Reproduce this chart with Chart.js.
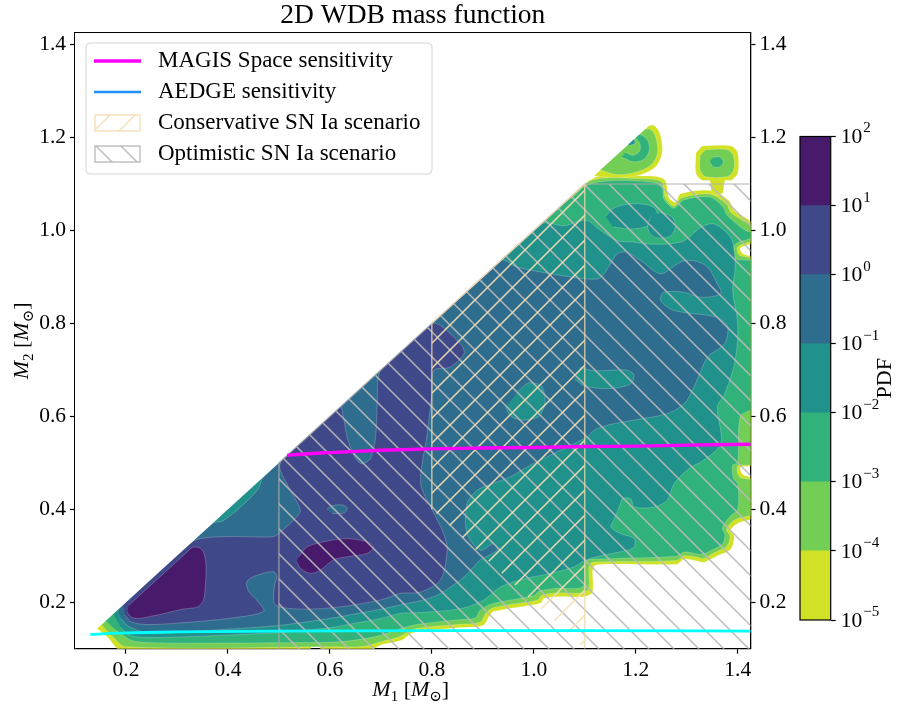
<!DOCTYPE html>
<html>
<head>
<meta charset="utf-8">
<script src="https://cdn.jsdelivr.net/npm/chart.js@4.4.1/dist/chart.umd.min.js"></script>
<style>
  html, body { margin: 0; padding: 0; background: #fff; }
  #wrap { position: relative; width: 904px; height: 707px; }
  #main { position: absolute; left: 0; top: 0; }
  #cbar { position: absolute; left: 760px; top: 0; }
</style>
</head>
<body>
<div id="wrap">
  <canvas id="main" width="904" height="707"></canvas>
  <canvas id="cbar" width="144" height="707"></canvas>
</div>
<script>
/************************ DATA ************************** */
const xRange = [0.1, 1.425];
const yRange = [0.1, 1.425];
const xTicks = [0.2, 0.4, 0.6, 0.8, 1.0, 1.2, 1.4];
const yTicks = [0.2, 0.4, 0.6, 0.8, 1.0, 1.2, 1.4];

// PDF contour levels and their viridis colours (low -> high)
const pdfLevels = [1e-5, 1e-4, 1e-3, 1e-2, 1e-1, 1, 10, 100];
const levelColors = ["#d0e126", "#72ce55", "#31b27b", "#21918c", "#2f6d8e", "#3f4888", "#471a6b"];

// contour outlines [M1, M2]
const lvl1Main = [[0.143,0.144],[1.100,1.100],[1.131,1.118],[1.196,1.118],[1.255,1.111],[1.265,1.071],[1.278,1.061],[1.288,1.079],[1.347,1.086],[1.383,1.064],[1.393,1.043],[1.430,1.014],[1.430,0.975],[1.405,0.962],[1.410,0.950],[1.430,0.940],[1.430,0.497],[1.405,0.490],[1.410,0.475],[1.430,0.465],[1.430,0.384],[1.400,0.370],[1.386,0.355],[1.393,0.342],[1.386,0.314],[1.360,0.300],[1.334,0.286],[1.320,0.289],[1.295,0.293],[1.281,0.282],[1.137,0.282],[1.117,0.276],[1.115,0.222],[1.098,0.212],[1.046,0.212],[1.020,0.208],[1.013,0.198],[0.921,0.180],[0.912,0.169],[0.900,0.150],[0.850,0.145],[0.764,0.135],[0.740,0.118],[0.700,0.108],[0.675,0.095],[0.585,0.095],[0.578,0.104],[0.565,0.104],[0.558,0.095],[0.192,0.095],[0.163,0.126]];
const lvl1Blob1 = [[1.118,1.118],[1.160,1.113],[1.210,1.120],[1.240,1.138],[1.252,1.170],[1.247,1.210],[1.236,1.226],[1.226,1.226]];
const lvl1Blob2 = [[1.330,1.182],[1.387,1.182],[1.400,1.167],[1.400,1.123],[1.387,1.108],[1.375,1.107],[1.370,1.080],[1.350,1.080],[1.345,1.107],[1.330,1.108],[1.318,1.123],[1.318,1.167]];

const lvl2Main = [[0.152,0.152],[1.100,1.100],[1.130,1.112],[1.196,1.112],[1.250,1.105],[1.258,1.070],[1.275,1.052],[1.290,1.070],[1.345,1.078],[1.378,1.057],[1.387,1.038],[1.430,1.005],[1.430,0.980],[1.400,0.965],[1.403,0.947],[1.430,0.935],[1.430,0.500],[1.400,0.493],[1.403,0.470],[1.430,0.460],[1.430,0.392],[1.395,0.378],[1.378,0.357],[1.385,0.342],[1.378,0.320],[1.355,0.307],[1.333,0.294],[1.320,0.297],[1.295,0.300],[1.280,0.290],[1.137,0.287],[1.110,0.282],[1.108,0.230],[1.095,0.220],[1.046,0.220],[1.015,0.215],[1.008,0.205],[0.920,0.188],[0.905,0.175],[0.895,0.157],[0.850,0.152],[0.764,0.142],[0.735,0.125],[0.700,0.115],[0.665,0.105],[0.600,0.104],[0.200,0.104],[0.172,0.128]];
const lvl2Blob1 = [[1.130,1.130],[1.165,1.120],[1.205,1.127],[1.232,1.143],[1.243,1.170],[1.238,1.205],[1.228,1.218],[1.218,1.218]];
const lvl2Blob2 = [[1.337,1.174],[1.380,1.174],[1.392,1.160],[1.392,1.130],[1.380,1.116],[1.337,1.116],[1.326,1.130],[1.326,1.160]];

const lvl3Main = [[0.160,0.160],[1.060,1.060],[1.080,1.075],[1.100,1.095],[1.130,1.105],[1.190,1.107],[1.250,1.098],[1.255,1.068],[1.275,1.048],[1.295,1.066],[1.345,1.072],[1.370,1.052],[1.380,1.032],[1.415,1.000],[1.430,0.995],[1.430,0.985],[1.395,0.970],[1.395,0.940],[1.430,0.930],[1.430,0.620],[1.405,0.600],[1.400,0.500],[1.390,0.495],[1.392,0.465],[1.400,0.455],[1.400,0.400],[1.385,0.385],[1.370,0.360],[1.375,0.345],[1.370,0.325],[1.350,0.313],[1.330,0.303],[1.295,0.308],[1.280,0.299],[1.137,0.293],[1.102,0.288],[1.100,0.240],[1.090,0.230],[1.046,0.230],[1.010,0.223],[1.000,0.214],[0.920,0.197],[0.895,0.183],[0.885,0.166],[0.850,0.162],[0.770,0.152],[0.730,0.140],[0.690,0.126],[0.620,0.115],[0.500,0.113],[0.350,0.112],[0.250,0.113],[0.210,0.118],[0.180,0.140]];
const lvl3Blob1 = [[1.172,1.158],[1.195,1.148],[1.215,1.152],[1.226,1.170],[1.224,1.193],[1.210,1.206],[1.196,1.204],[1.207,1.190],[1.208,1.172],[1.195,1.162],[1.180,1.168]];
const lvl3Blob2 = [[1.352,1.158],[1.365,1.158],[1.372,1.148],[1.365,1.137],[1.352,1.137],[1.345,1.148]];

const lvl4Main = [[0.175,0.175],[1.013,1.013],[1.060,1.010],[1.102,1.022],[1.131,1.000],[1.164,0.978],[1.196,0.975],[1.223,0.971],[1.262,0.971],[1.295,0.978],[1.328,1.007],[1.354,1.014],[1.386,0.985],[1.393,0.957],[1.395,0.920],[1.390,0.870],[1.400,0.800],[1.395,0.720],[1.375,0.650],[1.360,0.620],[1.367,0.541],[1.328,0.502],[1.308,0.491],[1.275,0.455],[1.262,0.420],[1.236,0.405],[1.197,0.405],[1.190,0.423],[1.174,0.423],[1.170,0.412],[1.157,0.377],[1.151,0.362],[1.170,0.348],[1.197,0.337],[1.197,0.319],[1.184,0.312],[1.131,0.300],[1.100,0.290],[1.079,0.276],[1.033,0.262],[0.980,0.250],[0.935,0.233],[0.902,0.205],[0.870,0.190],[0.837,0.183],[0.780,0.178],[0.738,0.176],[0.700,0.165],[0.650,0.155],[0.600,0.145],[0.500,0.135],[0.350,0.127],[0.250,0.124],[0.210,0.128],[0.190,0.145]];
const lvl4Ellipse = [[1.140,1.030],[1.160,1.050],[1.200,1.058],[1.235,1.050],[1.243,1.030],[1.225,1.010],[1.190,1.003],[1.155,1.008]];
const lvl4Circle = [[1.250,1.038],[1.270,1.030],[1.278,1.010],[1.270,0.990],[1.250,0.983],[1.230,0.990],[1.223,1.010],[1.230,1.030]];
const lvl4Dot = [[1.180,1.190],[1.188,1.200],[1.196,1.198],[1.198,1.188],[1.188,1.183]];

const lvl5Main = [[0.185,0.185],[0.370,0.370],[0.390,0.375],[0.430,0.410],[0.460,0.445],[0.470,0.470],[0.935,0.935],[0.967,0.921],[1.033,0.907],[1.102,0.896],[1.131,0.899],[1.164,0.950],[1.183,0.953],[1.210,0.935],[1.249,0.907],[1.288,0.932],[1.314,0.935],[1.341,0.921],[1.360,0.885],[1.367,0.864],[1.328,0.856],[1.295,0.867],[1.255,0.867],[1.249,0.849],[1.275,0.828],[1.360,0.813],[1.380,0.792],[1.374,0.756],[1.341,0.728],[1.328,0.699],[1.314,0.663],[1.295,0.627],[1.262,0.606],[1.197,0.592],[1.144,0.581],[1.118,0.570],[1.105,0.556],[1.013,0.506],[0.987,0.491],[0.954,0.470],[0.921,0.456],[0.889,0.441],[0.869,0.412],[0.869,0.348],[0.895,0.312],[0.921,0.326],[0.928,0.312],[0.895,0.291],[0.882,0.276],[0.856,0.248],[0.804,0.212],[0.738,0.194],[0.700,0.185],[0.650,0.175],[0.600,0.165],[0.500,0.150],[0.400,0.142],[0.300,0.136],[0.240,0.135],[0.205,0.148],[0.190,0.165]];
const lvl4InL5a = [[0.945,0.620],[0.955,0.600],[0.980,0.592],[1.010,0.600],[1.022,0.630],[1.015,0.665],[0.990,0.672],[0.970,0.655]];
const lvl4InL5b = [[1.080,0.680],[1.100,0.665],[1.150,0.660],[1.190,0.670],[1.196,0.690],[1.180,0.700],[1.120,0.698],[1.090,0.705]];

const lvl6Main = [[0.195,0.195],[0.330,0.330],[0.391,0.341],[0.489,0.341],[0.503,0.351],[0.529,0.377],[0.542,0.398],[0.519,0.448],[0.503,0.500],[0.620,0.620],[0.626,0.600],[0.635,0.550],[0.650,0.510],[0.663,0.498],[0.680,0.510],[0.690,0.560],[0.693,0.634],[0.700,0.700],[0.800,0.800],[0.856,0.756],[0.863,0.735],[0.836,0.706],[0.804,0.699],[0.800,0.650],[0.791,0.563],[0.778,0.456],[0.800,0.400],[0.823,0.348],[0.830,0.312],[0.817,0.248],[0.778,0.222],[0.738,0.219],[0.700,0.205],[0.620,0.190],[0.550,0.185],[0.500,0.190],[0.490,0.200],[0.492,0.240],[0.496,0.255],[0.489,0.266],[0.450,0.255],[0.437,0.244],[0.440,0.225],[0.460,0.200],[0.470,0.180],[0.400,0.165],[0.300,0.155],[0.240,0.152],[0.210,0.158],[0.198,0.172]];
const lvl5InL6 = [[0.594,0.400],[0.605,0.408],[0.625,0.409],[0.634,0.402],[0.628,0.392],[0.605,0.391]];

const lvl7A = [[0.205,0.193],[0.320,0.308],[0.330,0.318],[0.345,0.317],[0.353,0.305],[0.357,0.280],[0.356,0.240],[0.352,0.205],[0.340,0.190],[0.310,0.185],[0.280,0.177],[0.250,0.170],[0.225,0.165],[0.210,0.168],[0.203,0.178]];
const lvl7B = [[0.539,0.298],[0.555,0.319],[0.588,0.330],[0.634,0.337],[0.673,0.330],[0.686,0.319],[0.673,0.305],[0.634,0.298],[0.607,0.291],[0.581,0.269],[0.562,0.262],[0.542,0.273],[0.535,0.287]];

// M2 > M1 is excluded (blank half of the plane)
const excludedRegion = [[0.05,0.05],[1.60,1.60],[0.05,1.60]];

// SN Ia scenario regions
const optimisticRegion = [[1.60,0.05],[0.50,0.05],[0.50,0.50],[1.10,1.10],[1.60,1.10]];
const conservativeRegion = [[0.80,0.40],[0.80,0.80],[1.10,1.10],[1.10,0.10]];

// sensitivity curves
const magisM1 = [0.516, 0.55, 0.6, 0.7, 0.8, 0.9, 1.0, 1.1, 1.2, 1.3, 1.43];
const magisM2 = [0.516, 0.519, 0.522, 0.527, 0.530, 0.532, 0.533, 0.535, 0.536, 0.538, 0.540];
const lowM1 = [0.13, 0.2, 0.3, 0.5, 0.8, 1.1, 1.43];
const lowM2 = [0.131, 0.134, 0.136, 0.138, 0.139, 0.139, 0.138];

/************************ HELPERS ************************** */
const serif = "'Liberation Serif', 'DejaVu Serif', serif";
Chart.defaults.font.family = serif;

const mainCanvas = document.getElementById("main");
const mainCtx = mainCanvas.getContext("2d");

function hatchPattern(color, size, width, dir) {
  const c = document.createElement("canvas");
  c.width = size;
  c.height = size;
  const g = c.getContext("2d");
  g.strokeStyle = color;
  g.lineWidth = width;
  g.beginPath();
  if (dir == "back") {
    g.moveTo(-2, -2); g.lineTo(size + 2, size + 2);
    g.moveTo(-2, size - 2); g.lineTo(2, size + 2);
    g.moveTo(size - 2, -2); g.lineTo(size + 2, 2);
  } else {
    g.moveTo(-2, size + 2); g.lineTo(size + 2, -2);
    g.moveTo(-2, 2); g.lineTo(2, -2);
    g.moveTo(size - 2, size + 2); g.lineTo(size + 2, size - 2);
  }
  g.stroke();
  return mainCtx.createPattern(c, "repeat");
}

const grayHatch = hatchPattern("rgba(185,185,185,0.95)", 25, 1.5, "back");
const wheatHatch = hatchPattern("rgba(245,222,179,0.95)", 25, 1.5, "fwd");

function toPoints(arr) {
  return arr.map((p) => ({ x: p[0], y: p[1] }));
}

const layers = [
  [lvl1Main, 0], [lvl1Blob1, 0], [lvl1Blob2, 0],
  [lvl2Main, 1], [lvl2Blob1, 1], [lvl2Blob2, 1],
  [lvl3Main, 2], [lvl3Blob1, 2], [lvl3Blob2, 2],
  [lvl4Main, 3], [lvl4Ellipse, 3], [lvl4Circle, 3], [lvl4Dot, 3],
  [lvl5Main, 4], [lvl4InL5a, 3], [lvl4InL5b, 3],
  [lvl6Main, 5], [lvl5InL6, 4],
  [lvl7A, 6], [lvl7B, 6],
];

let datasets = layers.map((l, i) => ({
  data: toPoints(l[0]),
  showLine: true,
  fill: "shape",
  backgroundColor: levelColors[l[1]],
  borderColor: "rgba(255,255,255,0.28)",
  borderWidth: 0.8,
  pointRadius: 0,
  tension: 0.3,
  capBezierPoints: false,
  clip: 0,
  order: 100 + layers.length - i,
}));

// blank out the M2 > M1 half so smoothed contours keep a straight diagonal edge
datasets.push({
  data: toPoints(excludedRegion),
  showLine: true, fill: "shape",
  backgroundColor: "#ffffff", borderColor: "#ffffff", borderWidth: 0,
  pointRadius: 0, clip: 0, order: 50,
});

datasets.push({
  label: "Optimistic SN Ia scenario",
  legendRank: 4, legendKind: "patch",
  data: toPoints(optimisticRegion),
  showLine: true, fill: "shape",
  backgroundColor: grayHatch,
  borderColor: "rgba(170,170,170,0.9)",
  borderWidth: 1.2, pointRadius: 0, clip: 0, order: 20,
});
datasets.push({
  label: "Conservative SN Ia scenario",
  legendRank: 3, legendKind: "patch",
  data: toPoints(conservativeRegion),
  showLine: true, fill: "shape",
  backgroundColor: wheatHatch,
  borderColor: "rgba(240,215,170,0.95)",
  borderWidth: 1.2, pointRadius: 0, clip: 0, order: 19,
});
datasets.push({
  label: "AEDGE sensitivity",
  legendRank: 2, legendKind: "line",
  data: [],
  showLine: true, borderColor: "#1e90ff", borderWidth: 2.6, pointRadius: 0, order: 3,
});
datasets.push({
  data: lowM1.map((v, i) => ({ x: v, y: lowM2[i] })),
  showLine: true, borderColor: "#00ffff", borderWidth: 2.8, pointRadius: 0,
  cubicInterpolationMode: "monotone", order: 2,
});
datasets.push({
  label: "MAGIS Space sensitivity",
  legendRank: 1, legendKind: "line",
  data: magisM1.map((v, i) => ({ x: v, y: magisM2[i] })),
  showLine: true, borderColor: "#ff00ff", borderWidth: 3.4, pointRadius: 0,
  cubicInterpolationMode: "monotone", order: 1,
});

function drawRich(ctx, parts, x, y, size) {
  const fonts = parts.map((p) =>
    p[1] == "i" ? `italic ${size}px ${serif}` : p[1] == "sub" ? `${Math.round(size * 0.7)}px ${serif}` : `${size}px ${serif}`
  );
  const widths = parts.map((p, i) => {
    ctx.font = fonts[i];
    return ctx.measureText(p[0]).width;
  });
  let cx = x - widths.reduce((a, b) => a + b, 0) / 2;
  ctx.textAlign = "left";
  parts.forEach((p, i) => {
    ctx.font = fonts[i];
    ctx.fillText(p[0], cx, y + (p[1] == "sub" ? size * 0.22 : 0));
    cx += widths[i];
  });
}

const decorPlugin = {
  id: "decor",
  afterDraw(chart) {
    const ctx = chart.ctx;
    const a = chart.chartArea;
    ctx.save();
    ctx.fillStyle = "#000";
    ctx.textBaseline = "alphabetic";
    ctx.textAlign = "center";
    ctx.font = `27.5px ${serif}`;
    ctx.fillText("2D WDB mass function", (a.left + a.right) / 2, 23);

    drawRich(ctx, [["M", "i"], ["1", "sub"], [" [", "n"], ["M", "i"], ["\u2299", "sub"], ["]", "n"]], (a.left + a.right) / 2 - 2, 696, 22);
    ctx.save();
    ctx.translate(28, (a.top + a.bottom) / 2);
    ctx.rotate(-Math.PI / 2);
    drawRich(ctx, [["M", "i"], ["2", "sub"], [" [", "n"], ["M", "i"], ["\u2299", "sub"], ["]", "n"]], 0, 0, 22);
    ctx.restore();

    // legend box
    const bx = 86, by = 43, bw = 346, bh = 131, r = 4;
    ctx.beginPath();
    ctx.moveTo(bx + r, by);
    ctx.arcTo(bx + bw, by, bx + bw, by + bh, r);
    ctx.arcTo(bx + bw, by + bh, bx, by + bh, r);
    ctx.arcTo(bx, by + bh, bx, by, r);
    ctx.arcTo(bx, by, bx + bw, by, r);
    ctx.closePath();
    ctx.fillStyle = "rgba(255,255,255,0.8)";
    ctx.fill();
    ctx.strokeStyle = "#d4d4d4";
    ctx.lineWidth = 1;
    ctx.stroke();

    const items = chart.data.datasets.filter((d) => d.legendRank).sort((p, q) => p.legendRank - q.legendRank);
    items.forEach((d, i) => {
      const cy = 61 + i * 31;
      if (d.legendKind == "line") {
        ctx.beginPath();
        ctx.moveTo(94, cy);
        ctx.lineTo(141, cy);
        ctx.strokeStyle = d.borderColor;
        ctx.lineWidth = d.borderWidth;
        ctx.stroke();
      } else {
        ctx.fillStyle = d.backgroundColor;
        ctx.fillRect(95, cy - 8, 45, 16);
        ctx.strokeStyle = d.borderColor;
        ctx.lineWidth = 1.2;
        ctx.strokeRect(95, cy - 8, 45, 16);
      }
      ctx.fillStyle = "#000";
      ctx.font = `23px ${serif}`;
      ctx.textAlign = "left";
      ctx.textBaseline = "middle";
      ctx.fillText(d.label, 158, cy);
    });
    ctx.restore();
  },
};

/************************ MAIN CHART ************************** */
const tickFont = { size: 21.5, family: serif };
function linearAxis(pos, ticks, range, size) {
  const vertical = pos == "left" || pos == "right";
  return {
    type: "linear",
    position: pos,
    min: range[0],
    max: range[1],
    afterBuildTicks: (s) => {
      s.ticks = ticks.map((v) => ({ value: v }));
    },
    afterFit: (s) => {
      if (vertical) s.width = size;
      else s.height = size;
    },
    ticks: {
      display: ticks.length > 0,
      font: tickFont,
      color: "#000",
      padding: 4,
      maxRotation: 0,
      autoSkip: false,
      callback: (v) => Number(v).toFixed(1),
    },
    grid: {
      drawOnChartArea: false,
      drawTicks: ticks.length > 0,
      tickLength: 5,
      tickColor: "#000",
      tickWidth: 1.2,
    },
    border: { display: true, color: "#000", width: 1.3 },
  };
}

new Chart(mainCanvas, {
  type: "scatter",
  data: { datasets: datasets },
  options: {
    responsive: false,
    animation: false,
    events: [],
    layout: { padding: { top: 33, left: 0, right: 0, bottom: 0 } },
    plugins: { legend: { display: false }, tooltip: { enabled: false } },
    scales: {
      x: linearAxis("bottom", xTicks, xRange, 58.3),
      xTop: linearAxis("top", [], xRange, 0),
      y: linearAxis("left", yTicks, yRange, 75),
      yRight: linearAxis("right", yTicks, yRange, 153.5),
    },
  },
  plugins: [decorPlugin],
});

/************************ COLORBAR ************************** */
const cbarExponents = [-5, -4, -3, -2, -1, 0, 1, 2];

const cbarPlugin = {
  id: "cbarDecor",
  afterDraw(chart) {
    const ctx = chart.ctx;
    const a = chart.chartArea;
    const y = chart.scales.y;
    ctx.save();
    ctx.strokeStyle = "#000";
    ctx.lineWidth = 1.2;
    ctx.strokeRect(a.left, a.top, a.right - a.left, a.bottom - a.top);
    ctx.fillStyle = "#000";
    ctx.textAlign = "left";
    ctx.textBaseline = "middle";
    cbarExponents.forEach((e) => {
      const py = y.getPixelForValue(Math.pow(10, e));
      ctx.font = `21.5px ${serif}`;
      ctx.fillText("10", a.right + 10, py + 1);
      const w = ctx.measureText("10").width;
      ctx.font = `15px ${serif}`;
      ctx.fillText(String(e).replace("-", "\u2212"), a.right + 11 + w, py - 8);
    });
    ctx.font = `22px ${serif}`;
    ctx.textAlign = "center";
    ctx.translate(125, (a.top + a.bottom) / 2);
    ctx.rotate(-Math.PI / 2);
    ctx.fillText("PDF", 0, 0);
    ctx.restore();
  },
};

new Chart(document.getElementById("cbar"), {
  type: "bar",
  data: {
    labels: ["PDF"],
    datasets: levelColors.map((c, i) => ({
      data: [[pdfLevels[i], pdfLevels[i + 1]]],
      backgroundColor: c,
      borderWidth: 0,
      grouped: false,
      barPercentage: 1,
      categoryPercentage: 1,
    })),
  },
  options: {
    responsive: false,
    animation: false,
    events: [],
    layout: { padding: { top: 136.5, left: 40, right: 0, bottom: 87 } },
    plugins: { legend: { display: false }, tooltip: { enabled: false } },
    scales: {
      x: { display: false },
      y: {
        type: "logarithmic",
        position: "right",
        min: pdfLevels[0],
        max: pdfLevels[pdfLevels.length - 1],
        afterBuildTicks: (s) => {
          s.ticks = pdfLevels.map((v) => ({ value: v, major: true }));
        },
        afterFit: (s) => {
          s.width = 73.3;
        },
        ticks: { display: false },
        grid: { drawOnChartArea: false, drawTicks: true, tickLength: 5, tickColor: "#000", tickWidth: 1.2 },
        border: { display: false },
      },
    },
  },
  plugins: [cbarPlugin],
});
</script>
</body>
</html>
